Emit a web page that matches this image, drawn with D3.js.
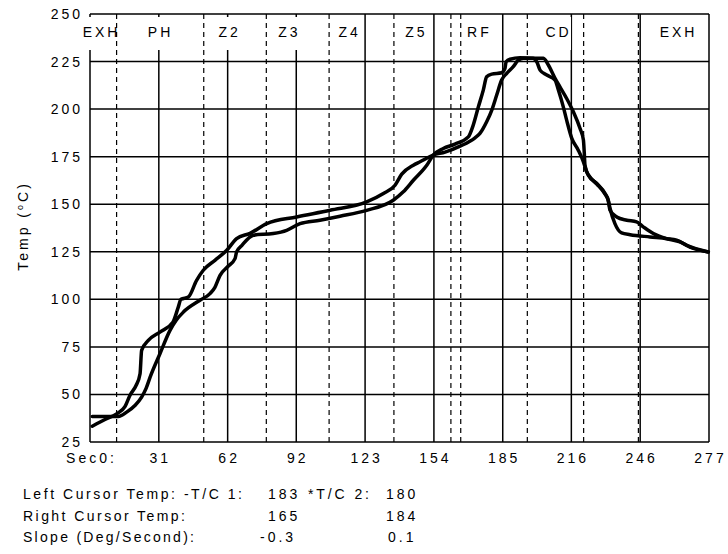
<!DOCTYPE html>
<html>
<head>
<meta charset="utf-8">
<script src="https://cdn.jsdelivr.net/npm/d3@7"></script>
<style>
  body { margin: 0; background: #fff; }
  text { font-family: "Liberation Sans", Arial, sans-serif; font-size: 14px; letter-spacing: 3px; fill: #000; }
</style>
</head>
<body>
<div id="chart"></div>
<script>
// tick positions (seconds) and their printed labels
var xTickValues = [0, 30.8, 61.6, 92.3, 123.1, 153.9, 184.7, 215.4, 246.2, 277];
var xTickLabels = ["Sec0:", "31", "62", "92", "123", "154", "185", "216", "246", "277"];
var yTickValues = [25, 50, 75, 100, 125, 150, 175, 200, 225, 250];

// zone boundaries (dashed) and zone names
var zoneBounds = [11.9, 50.9, 78.9, 107.0, 136.0, 161.5, 165.9, 195.7, 220.9, 245.4];
var zoneNames = ["EXH", "PH", "Z2", "Z3", "Z4", "Z5", "RF", "CD", "EXH"];
var zoneCenters = [4.5, 30.9, 61.8, 88.6, 115.5, 145.4, 173.6, 209.0, 262.7];

// thermocouple 1 [sec, temp]
var tc1 = [[1.0,33.3],[6.7,36.8],[11.9,39.8],[15.7,43.7],[17.9,49.6],[20.6,54.7],[22.4,60.9],
  [23.1,73.2],[26.1,78.4],[31.3,82.8],[37.1,88.0],[39.5,95.9],[40.7,100.0],[44.0,101.2],
  [47.7,110.0],[50.7,115.3],[55.9,120.5],[61.2,125.8],[65.6,131.9],[71.6,134.7],[79.1,139.8],
  [92.5,143.3],[107.4,146.8],[123.8,151.2],[131.3,155.6],[136.5,160.0],[139.5,165.8],
  [144.7,170.5],[147.7,172.3],[153.6,175.8],[158.9,177.4],[165.6,180.5],[172.3,184.9],
  [174.5,187.2],[177.5,193.3],[179.8,199.5],[182.0,207.4],[184.2,215.3],[186.5,218.8],
  [189.4,222.3],[191.7,225.8],[193.9,226.7],[199.1,226.8],[202.9,226.7],[205.1,223.2],
  [208.1,216.2],[210.3,211.7],[213.3,205.6],[216.3,198.6],[219.3,189.8],[220.8,183.7],
  [221.2,176.7],[221.5,170.5],[223.0,165.3],[226.8,160.9],[230.5,155.6],[231.9,152.1],
  [232.7,146.8],[235.7,143.3],[240.2,141.6],[244.6,140.7],[247.6,138.1],[252.1,134.6],
  [258.1,131.9],[264.0,130.2],[268.5,127.5],[276.7,124.9]];

// thermocouple 2 [sec, temp]
var tc2 = [[1.0,38.4],[12.7,38.4],[16.4,40.7],[20.1,44.2],[23.1,48.6],[25.1,53.2],[26.9,59.1],
  [31.3,71.4],[35.8,83.7],[38.5,88.9],[41.8,93.3],[49.2,99.5],[53.7,103.0],[55.9,106.3],
  [58.2,112.6],[61.8,117.4],[64.9,121.4],[65.6,124.9],[68.0,128.4],[73.1,133.7],[82.0,134.6],
  [88.0,136.3],[94.0,139.8],[102.9,141.6],[111.9,143.7],[123.8,146.8],[135.7,152.1],
  [140.2,156.5],[144.7,162.6],[150.7,170.5],[153.6,175.8],[158.1,179.3],[163.3,181.6],
  [169.3,185.4],[171.5,191.6],[173.8,201.2],[176.0,210.0],[177.5,217.0],[179.8,218.4],
  [184.2,219.1],[185.7,221.4],[186.2,224.9],[188.0,226.2],[192.4,227.0],[198.2,226.8],
  [200.0,224.7],[201.4,220.5],[204.4,217.9],[208.1,215.3],[209.6,210.0],[211.8,201.2],
  [213.3,194.2],[215.6,184.6],[218.5,178.4],[220.8,172.3],[222.3,167.0],[223.8,164.2],
  [226.9,160.5],[230.5,155.3],[231.9,152.1],[232.7,147.9],[234.9,139.8],[237.9,134.9],
  [241.7,134.0],[250.6,132.8],[258.1,131.9],[262.5,131.1],[267.0,128.4],[276.7,124.9]];

// cursor readout below the chart
var readoutLabels = ["Left Cursor Temp: -T/C 1:", "Right Cursor Temp:", "Slope (Deg/Second):"];
var readoutMid = ["*T/C 2:", "", ""];
var readoutTc1 = ["183", "165", "-0.3"];
var readoutTc2 = ["180", "184", "0.1"];

var margin = { top: 14, right: 19, bottom: 112, left: 90 },
  width = 728 - margin.left - margin.right,
  height = 554 - margin.top - margin.bottom;
var ls = 3;

var svg = d3.select("#chart")
  .append("svg")
  .attr("width", 728)
  .attr("height", 554);

var g = svg.append("g")
  .attr("transform", "translate(" + margin.left + "," + margin.top + ")");

var x = d3.scaleLinear().domain([0, 277]).range([0, width]);
var y = d3.scaleLinear().domain([25, 250]).range([height, 0]);

// solid grid
g.selectAll(".hgrid").data(yTickValues).enter().append("line")
  .attr("x1", 0).attr("x2", width)
  .attr("y1", function (d) { return y(d); }).attr("y2", function (d) { return y(d); })
  .attr("stroke", "#000").attr("stroke-width", 1.5);
g.selectAll(".vgrid").data(xTickValues).enter().append("line")
  .attr("x1", function (d) { return x(d); }).attr("x2", function (d) { return x(d); })
  .attr("y1", 0).attr("y2", height)
  .attr("stroke", "#000").attr("stroke-width", 1.5);

// zone name boxes hide the grid behind them
g.selectAll(".zbox").data(zoneCenters).enter().append("rect")
  .attr("x", function (d) { return x(d) - 14; })
  .attr("y", 3).attr("width", 28).attr("height", 33)
  .attr("fill", "#fff");
g.selectAll(".zname").data(zoneNames).enter().append("text")
  .attr("x", function (d, i) { return x(zoneCenters[i]) + ls / 2; })
  .attr("y", 23)
  .attr("text-anchor", "middle")
  .text(function (d) { return d; });

// dashed zone boundaries
g.selectAll(".zone").data(zoneBounds).enter().append("line")
  .attr("x1", function (d) { return x(d); }).attr("x2", function (d) { return x(d); })
  .attr("y1", 0).attr("y2", height)
  .attr("stroke", "#000").attr("stroke-width", 1.2)
  .attr("stroke-dasharray", "5,4");

// tick labels (grid acts as frame)
g.selectAll(".ylab").data(yTickValues).enter().append("text")
  .attr("x", -10 + ls)
  .attr("y", function (d) { return y(d) + 5; })
  .attr("text-anchor", "end")
  .text(function (d) { return d; });
g.selectAll(".xlab").data(xTickValues).enter().append("text")
  .attr("x", function (d) { return x(d) + ls / 2; })
  .attr("y", height + 21)
  .attr("text-anchor", "middle")
  .text(function (d, i) { return xTickLabels[i]; });

var yt = svg.append("text")
  .attr("transform", "translate(28," + (margin.top + 212) + ") rotate(-90)")
  .attr("text-anchor", "middle");
yt.append("tspan").text("Temp (");
yt.append("tspan").attr("font-size", "9px").attr("dy", -5).text("o");
yt.append("tspan").attr("dy", 5).text("C)");

// temperature curves
var line = d3.line()
  .x(function (d) { return x(d[0]); })
  .y(function (d) { return y(d[1]); })
  .curve(d3.curveMonotoneX);

[tc1, tc2].forEach(function (s) {
  g.append("path")
    .datum(s)
    .attr("fill", "none")
    .attr("stroke", "#000")
    .attr("stroke-width", 3.5)
    .attr("stroke-linejoin", "round")
    .attr("stroke-linecap", "round")
    .attr("d", line);
});

var labelLen = [222, 165, 174];
readoutLabels.forEach(function (t, i) {
  var yy = 499 + i * 21.5;
  svg.append("text").attr("x", 23).attr("y", yy)
    .attr("textLength", labelLen[i]).attr("lengthAdjust", "spacing").text(t);
  svg.append("text").attr("x", i == 2 ? 260 : 268).attr("y", yy).text(readoutTc1[i]);
  if (readoutMid[i]) {
    svg.append("text").attr("x", 308).attr("y", yy)
      .attr("textLength", 64).attr("lengthAdjust", "spacing").text(readoutMid[i]);
  }
  svg.append("text").attr("x", i == 2 ? 388 : 386).attr("y", yy).text(readoutTc2[i]);
});
</script>
</body>
</html>
